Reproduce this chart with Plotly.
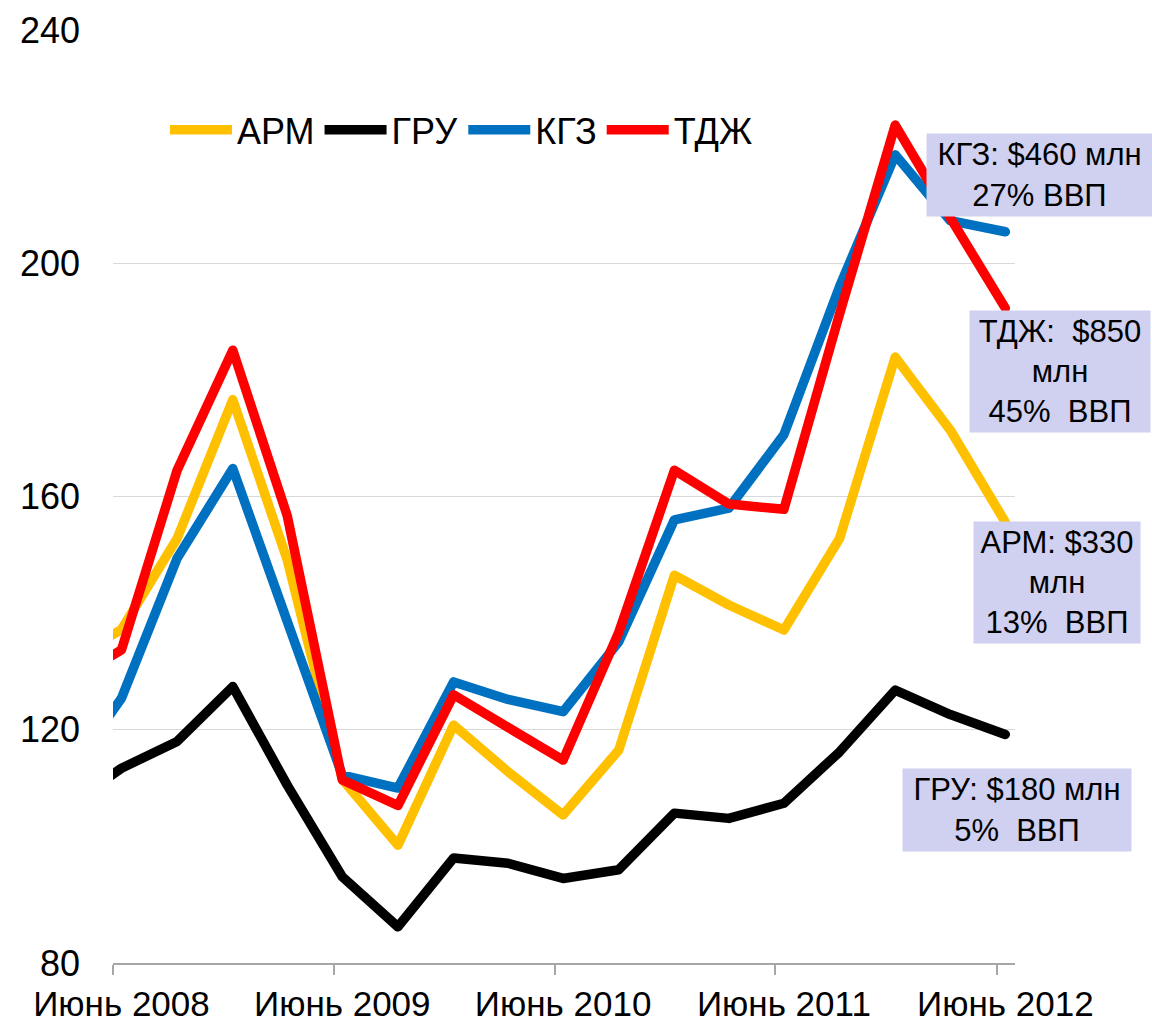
import plotly.graph_objects as go

# Quarterly dates (first point lies left of the visible range and is clipped)
dates = ["2008-03-31", "2008-06-30", "2008-09-30", "2008-12-31", "2009-03-31",
         "2009-06-30", "2009-09-30", "2009-12-31", "2010-03-31", "2010-06-30",
         "2010-09-30", "2010-12-31", "2011-03-31", "2011-06-30", "2011-09-30",
         "2011-12-31", "2012-03-31", "2012-06-30"]

arm = [131.5, 137.2, 152.8, 176.6, 149.1, 111.5, 100.2, 120.8, 112.8, 105.4,
       116.5, 146.5, 141.4, 137.1, 152.8, 183.9, 171.4, 155.6]
gru = [106.8, 113.4, 118.0, 127.4, 110.5, 94.8, 86.2, 98.0, 97.1, 94.5,
       96.0, 105.7, 104.8, 107.4, 116.2, 126.8, 122.6, 119.2]
kgz = [112.0, 125.4, 149.4, 164.8, 138.6, 112.2, 110.0, 128.2, 125.2, 123.1,
       135.1, 156.0, 158.0, 170.6, 196.0, 218.6, 207.3, 205.4]
tjk = [128.0, 133.7, 164.5, 185.1, 156.7, 111.4, 107.0, 126.0, 120.4, 114.8,
       136.7, 164.5, 158.7, 157.8, 191.3, 223.7, 207.8, 192.3]

series_names = ["АРМ", "ГРУ", "КГЗ", "ТДЖ"]
series_colors = ["#FFC000", "#000000", "#0070C0", "#FF0000"]

label_dates = ["2008-06-30", "2009-06-30", "2010-06-30", "2011-06-30", "2012-06-30"]
label_text = ["Июнь 2008", "Июнь 2009", "Июнь 2010", "Июнь 2011", "Июнь 2012"]
tick_mark_dates = ["2008-06-16", "2009-06-16", "2010-06-16", "2011-06-16", "2012-06-16"]
y_ticks = [80, 120, 160, 200, 240]

box_texts = ["КГЗ: $460 млн<br>27% ВВП",
             "ТДЖ:  $850<br>млн<br>45%  ВВП",
             "АРМ: $330<br>млн<br>13%  ВВП",
             "ГРУ: $180 млн<br>5%  ВВП"]

FONT = "Arial, Liberation Sans, sans-serif"

fig = go.Figure()
for name, vals, col in zip(series_names, [arm, gru, kgz, tjk], series_colors):
    fig.add_trace(go.Scatter(x=dates, y=vals, mode="lines", name=name,
                             line=dict(color=col, width=9.5)))

# annotation boxes (paper coords of centre, width, height in px)
box_geom = [
    (1.0277, 0.845, 225, 82),
    (1.050, 0.6345, 180, 121),
    (1.0466, 0.408, 166, 121),
    (1.002, 0.164, 228, 82),
]
for txt, (bx, by, bw, bh) in zip(box_texts, box_geom):
    fig.add_annotation(text=txt, xref="paper", yref="paper", x=bx, y=by,
                       xanchor="center", yanchor="middle", showarrow=False,
                       width=bw, height=bh, borderpad=0, align="center",
                       bgcolor="rgb(208,208,240)",
                       font=dict(family=FONT, size=31, color="black"))

fig.update_layout(
    width=1152, height=1023,
    margin=dict(l=113, r=137, t=30, b=60, autoexpand=False),
    plot_bgcolor="white", paper_bgcolor="white",
    font=dict(family=FONT, color="black"),
    showlegend=True,
    legend=dict(orientation="h", x=0.0576, y=0.893, xanchor="left", yanchor="middle",
                font=dict(family=FONT, size=36, color="black"),
                bgcolor="rgba(0,0,0,0)", traceorder="normal", itemwidth=62),
)

fig.update_xaxes(
    type="date", range=["2008-06-16", "2012-07-16"], automargin=False,
    tickmode="array", tickvals=label_dates, ticktext=label_text,
    ticks="", showgrid=False, zeroline=False,
    showline=True, linecolor="#A6A6A6", linewidth=1.5,
    tickfont=dict(family=FONT, size=35, color="black"),
    ticklabelstandoff=9,
    minor=dict(tickmode="array", tickvals=tick_mark_dates, ticks="outside",
               ticklen=10, tickcolor="#A6A6A6", tickwidth=1.5, showgrid=False),
)
fig.update_yaxes(
    range=[80, 240], tickmode="array", tickvals=y_ticks, automargin=False,
    showgrid=True, gridcolor="#D9D9D9", gridwidth=1,
    zeroline=False, showline=False, ticks="",
    tickfont=dict(family=FONT, size=36, color="black"),
    ticklabelstandoff=32,
)

post = """
document.documentElement.style.margin = '0';
document.body.style.margin = '0';
document.body.style.overflow = 'hidden';
document.querySelectorAll('.scatterlayer .js-line').forEach(function(p){
  p.style.strokeLinejoin = 'round'; p.style.strokeLinecap = 'round';
});
"""
fig.write_html("out.html", post_script=post, config={"displayModeBar": False})
